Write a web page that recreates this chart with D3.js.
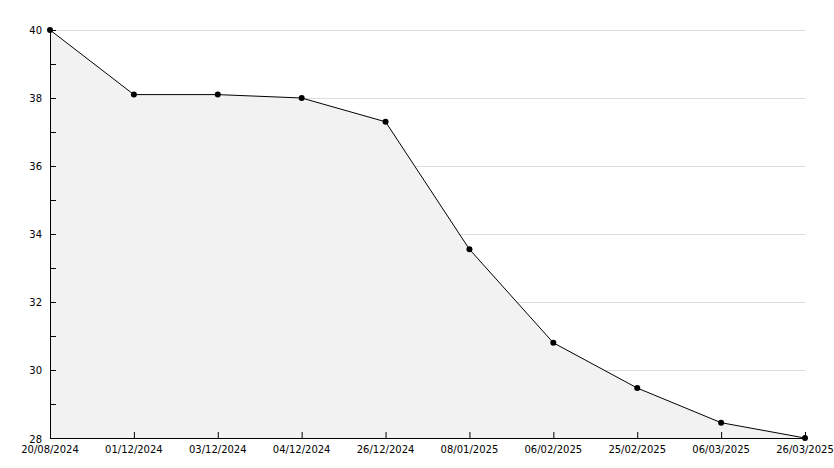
<!DOCTYPE html>
<html>
<head>
<meta charset="utf-8">
<script src="https://cdn.jsdelivr.net/npm/d3@7"></script>
<style>
  body { margin: 0; background: #fff; }
  text { font-family: "DejaVu Sans", Verdana, sans-serif; font-size: 10px; fill: #000; }
</style>
</head>
<body>
<div id="chart"></div>
<script>
var dates = ["20/08/2024", "01/12/2024", "03/12/2024", "04/12/2024", "26/12/2024",
             "08/01/2025", "06/02/2025", "25/02/2025", "06/03/2025", "26/03/2025"];
var values = [40, 38.1, 38.1, 38.0, 37.3, 33.55, 30.8, 29.47, 28.45, 28.0];
var yMajor = [28, 30, 32, 34, 36, 38, 40];
var yMinor = [29, 31, 33, 35, 37, 39];

var width = 834,
    height = 468,
    plotLeft = 50, plotRight = 805,
    plotTop = 30, plotBottom = 438;

var svg = d3.select("#chart")
    .append("svg")
    .attr("width", width)
    .attr("height", height);

var x = d3.scalePoint().domain(dates).range([plotLeft, plotRight]);
var y = d3.scaleLinear().domain([28, 40]).range([plotBottom, plotTop]);

/* grid lines */
svg.append("g")
    .selectAll("line")
    .data(yMajor.slice(1))
    .enter().append("line")
    .attr("x1", plotLeft).attr("x2", plotRight)
    .attr("y1", function(d) { return y(d) + 0.5; })
    .attr("y2", function(d) { return y(d) + 0.5; })
    .attr("stroke", "#dddddd")
    .attr("stroke-width", 1);

/* area */
var area = d3.area()
    .x(function(d, i) { return x(dates[i]); })
    .y0(plotBottom)
    .y1(function(d) { return y(d); });

svg.append("path")
    .datum(values)
    .attr("d", area)
    .attr("fill", "#f2f2f2");

/* axes */
svg.append("line")
    .attr("x1", plotLeft + 0.5).attr("x2", plotLeft + 0.5)
    .attr("y1", plotTop).attr("y2", plotBottom + 0.5)
    .attr("stroke", "#000");
svg.append("line")
    .attr("x1", plotLeft).attr("x2", plotRight + 1)
    .attr("y1", plotBottom + 0.5).attr("y2", plotBottom + 0.5)
    .attr("stroke", "#000");

// y ticks (inward)
svg.append("g")
    .selectAll("line")
    .data(yMajor.concat(yMinor))
    .enter().append("line")
    .attr("x1", plotLeft).attr("x2", plotLeft + 6)
    .attr("y1", function(d) { return y(d) + 0.5; })
    .attr("y2", function(d) { return y(d) + 0.5; })
    .attr("stroke", "#000");

svg.append("g")
    .selectAll("text")
    .data(yMajor)
    .enter().append("text")
    .attr("x", 42)
    .attr("y", function(d) { return d === 28 ? y(d) + 5 : y(d) + 4; })
    .attr("text-anchor", "end")
    .text(function(d) { return d; });

// x ticks (upward)
svg.append("g")
    .selectAll("line")
    .data(dates)
    .enter().append("line")
    .attr("x1", function(d) { return x(d) + 0.5; })
    .attr("x2", function(d) { return x(d) + 0.5; })
    .attr("y1", plotBottom).attr("y2", plotBottom - 6)
    .attr("stroke", "#000");

svg.append("g")
    .selectAll("text")
    .data(dates)
    .enter().append("text")
    .attr("x", function(d) { return x(d); })
    .attr("y", 453)
    .attr("text-anchor", "middle")
    .text(function(d) { return d; });

/* line */
var line = d3.line()
    .x(function(d, i) { return x(dates[i]); })
    .y(function(d) { return y(d); });

svg.append("path")
    .datum(values)
    .attr("d", line)
    .attr("fill", "none")
    .attr("stroke", "#000")
    .attr("stroke-width", 1);

svg.append("g")
    .selectAll("circle")
    .data(values)
    .enter().append("circle")
    .attr("cx", function(d, i) { return x(dates[i]); })
    .attr("cy", function(d) { return y(d); })
    .attr("r", 3)
    .attr("fill", "#000");
</script>
</body>
</html>
